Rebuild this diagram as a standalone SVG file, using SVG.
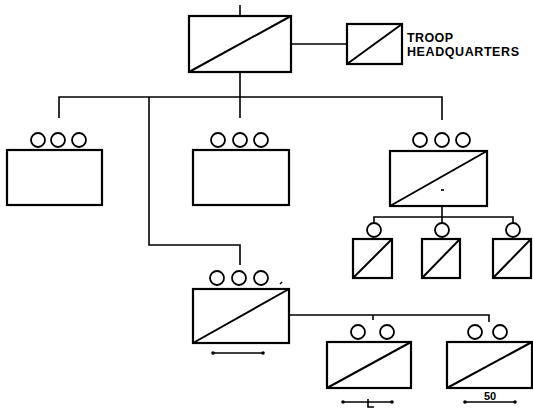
<svg xmlns="http://www.w3.org/2000/svg" width="533" height="409" viewBox="0 0 533 409">
<style>
.box{fill:none;stroke:#000;stroke-width:2.2}
.diag{stroke:#000;stroke-width:2;fill:none}
.ln{stroke:#000;stroke-width:1.6;fill:none}
.c{fill:none;stroke:#000;stroke-width:1.8}
.t{font-family:"Liberation Sans",Arial,sans-serif;font-weight:bold;fill:#000}
.bar{stroke:#000;stroke-width:1.6}
.dot{fill:#000}
</style>
<g id="connectors">
<path class="ln" d="M240,5 V16"/>
<path class="ln" d="M240,72 V118"/>
<path class="ln" d="M291,44 H347"/>
<path class="ln" d="M59,118 V97 H442 V120"/>
<path class="ln" d="M149,97 V245 H240 V265"/>
<path class="ln" d="M442,206 V217"/>
<path class="ln" d="M374,223 V217 H513 V223"/>
<path class="ln" d="M442,217 V223"/>
<path class="ln" d="M289,315 H489 V322"/>
<path class="ln" d="M373,315 V320"/>
</g>
<g id="hq">
<rect class="box" x="189" y="16" width="102" height="56"/>
<path class="diag" d="M189,72 L291,16"/>
</g>
<g id="troop-hq">
<rect class="box" x="347" y="24" width="55" height="40"/>
<path class="diag" d="M347,64 L402,24"/>
<text class="t" x="407" y="42" font-size="12.5" textLength="46" lengthAdjust="spacing">TROOP</text>
<text class="t" x="407" y="56" font-size="12.5" textLength="112" lengthAdjust="spacing">HEADQUARTERS</text>
</g>
<g id="unit-left">
<circle class="c" cx="38" cy="140" r="7"/>
<circle class="c" cx="58" cy="140" r="7"/>
<circle class="c" cx="79" cy="140" r="7"/>
<rect class="box" x="7" y="150" width="95" height="55"/>
</g>
<g id="unit-mid">
<circle class="c" cx="218" cy="140" r="7"/>
<circle class="c" cx="240" cy="140" r="7"/>
<circle class="c" cx="261" cy="140" r="7"/>
<rect class="box" x="193" y="150" width="96" height="55"/>
</g>
<g id="unit-right">
<circle class="c" cx="420" cy="140" r="7"/>
<circle class="c" cx="442" cy="140" r="7"/>
<circle class="c" cx="463" cy="140" r="7"/>
<rect class="box" x="390" y="151" width="97" height="55"/>
<path class="diag" d="M390,206 L487,151"/>
<path class="ln" d="M441,190 H444" stroke-width="1"/>
</g>
<g id="sub1">
<circle class="c" cx="374" cy="230" r="7"/>
<rect class="box" x="353" y="239" width="39" height="39"/>
<path class="diag" d="M353,278 L392,239"/>
</g>
<g id="sub2">
<circle class="c" cx="442" cy="230" r="7"/>
<rect class="box" x="422" y="239" width="38" height="39"/>
<path class="diag" d="M422,278 L460,239"/>
</g>
<g id="sub3">
<circle class="c" cx="513" cy="230" r="7"/>
<rect class="box" x="493" y="239" width="38" height="39"/>
<path class="diag" d="M493,278 L531,239"/>
</g>
<g id="unit-bottom">
<circle class="c" cx="217" cy="278" r="7"/>
<circle class="c" cx="239" cy="278" r="7"/>
<circle class="c" cx="261" cy="278" r="7"/>
<path class="ln" d="M280,284 L282,282" stroke-width="1"/>
<rect class="box" x="193" y="289" width="96" height="54"/>
<path class="diag" d="M193,343 L289,289"/>
<line class="bar" x1="213" y1="353" x2="263" y2="353"/>
<circle class="dot" cx="213" cy="353" r="1.8"/>
<circle class="dot" cx="263" cy="353" r="1.8"/>
</g>
<g id="bottom-mid">
<circle class="c" cx="358" cy="332" r="7"/>
<circle class="c" cx="387" cy="332" r="7"/>
<rect class="box" x="327" y="342" width="84" height="46"/>
<path class="diag" d="M327,388 L411,342"/>
<line class="bar" x1="343" y1="402" x2="392" y2="402"/>
<circle class="dot" cx="343" cy="402" r="1.8"/>
<circle class="dot" cx="392" cy="402" r="1.8"/>
<path class="ln" d="M368,399 V407 H374" stroke-width="1.3"/>
</g>
<g id="bottom-right">
<circle class="c" cx="475" cy="332" r="7"/>
<circle class="c" cx="500" cy="332" r="7"/>
<rect class="box" x="447" y="342" width="85" height="46"/>
<path class="diag" d="M447,388 L532,342"/>
<line class="bar" x1="465" y1="402" x2="515" y2="402"/>
<circle class="dot" cx="465" cy="402" r="1.8"/>
<circle class="dot" cx="515" cy="402" r="1.8"/>
<text class="t" x="490" y="400" font-size="11" text-anchor="middle">50</text>
</g>
</svg>
